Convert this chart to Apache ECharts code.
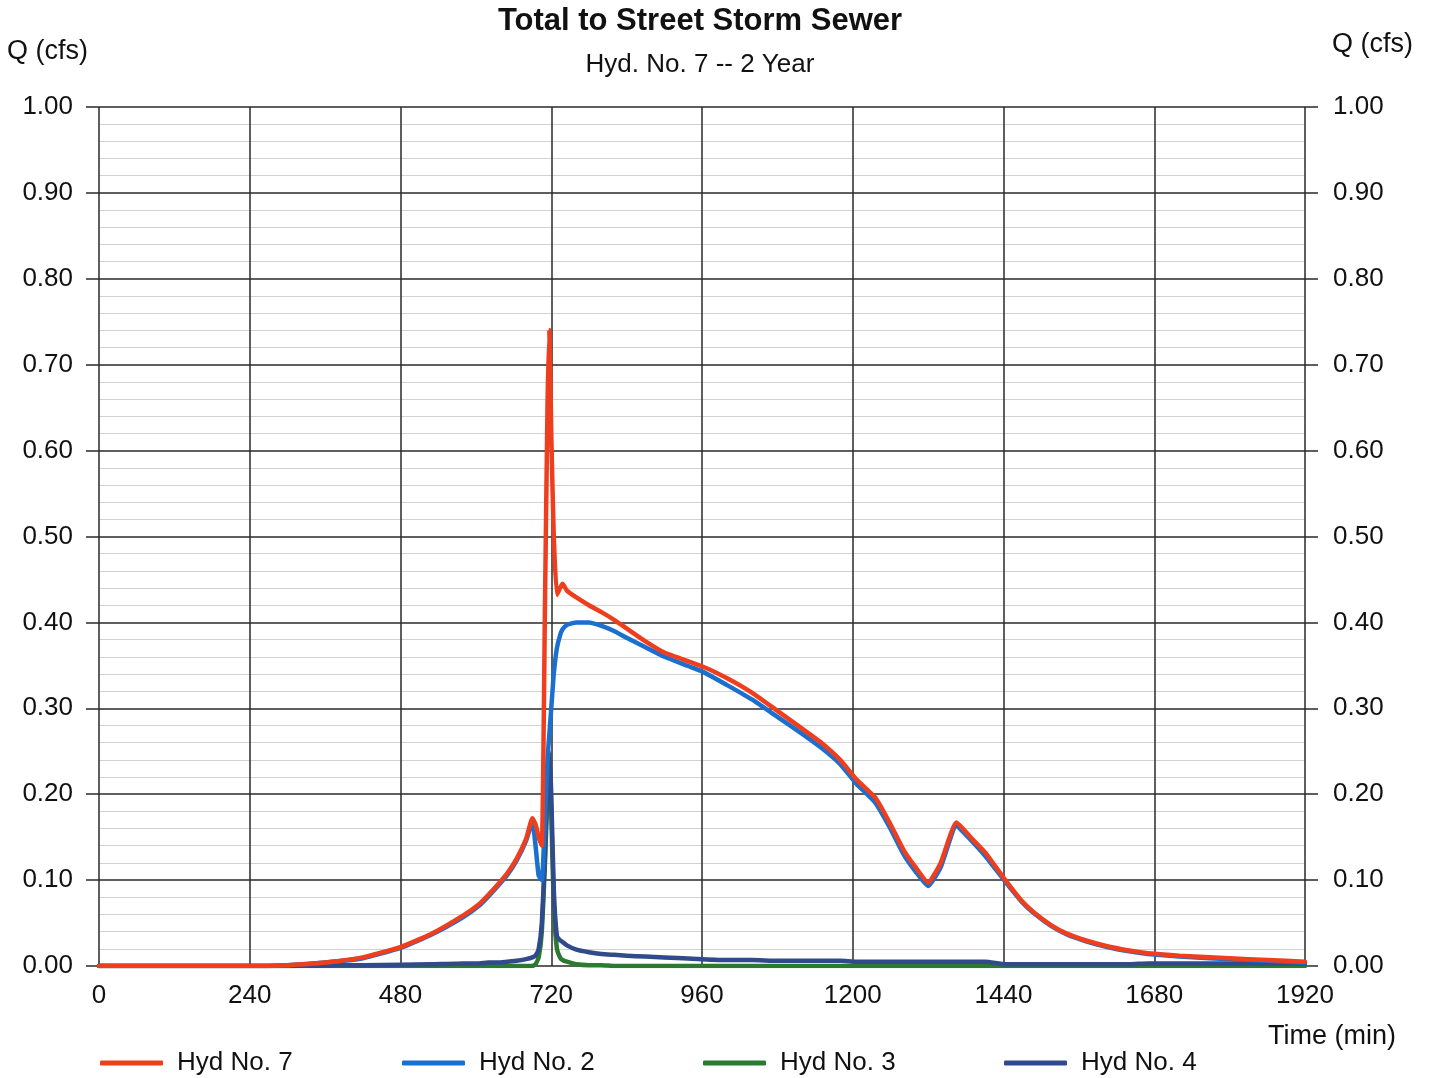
<!DOCTYPE html>
<html>
<head>
<meta charset="utf-8">
<script src="https://cdn.jsdelivr.net/npm/echarts@6/dist/echarts.min.js"></script>
<style>
html,body{margin:0;padding:0;background:#fff;}
#chart{width:1429px;height:1078px;}
</style>
</head>
<body>
<div id="chart"></div>
<script>
// ---- data ----
var titleText = 'Total to Street Storm Sewer';
var subtitleText = 'Hyd. No. 7 -- 2 Year';
var seriesNames = ['Hyd No. 7', 'Hyd No. 2', 'Hyd No. 3', 'Hyd No. 4'];
var xTicks = [0, 240, 480, 720, 960, 1200, 1440, 1680, 1920];
var yTicks = [0, 0.1, 0.2, 0.3, 0.4, 0.5, 0.6, 0.7, 0.8, 0.9, 1.0];

var times = [0, 120, 240, 300, 360, 420, 480, 528, 580, 605, 620, 635, 650, 665, 680, 690, 695, 700, 705, 710, 714, 717, 720, 724, 729, 734, 738, 745, 760, 780, 800, 820, 840, 870, 900, 960, 1000, 1040, 1080, 1120, 1150, 1180, 1206, 1236, 1260, 1281, 1300, 1320, 1340, 1365, 1390, 1411, 1443, 1470, 1489, 1515, 1540, 1570, 1605, 1640, 1670, 1720, 1800, 1860, 1920];

var hyd7 = [0, 0, 0, 0.001, 0.004, 0.010, 0.022, 0.037, 0.059, 0.072, 0.083, 0.095, 0.108, 0.125, 0.148, 0.172, 0.165, 0.150, 0.140, 0.420, 0.650, 0.740, 0.620, 0.500, 0.432, 0.440, 0.445, 0.437, 0.429, 0.420, 0.412, 0.403, 0.393, 0.378, 0.365, 0.349, 0.335, 0.318, 0.297, 0.276, 0.260, 0.240, 0.217, 0.196, 0.165, 0.135, 0.115, 0.097, 0.120, 0.167, 0.148, 0.132, 0.100, 0.075, 0.062, 0.048, 0.038, 0.030, 0.023, 0.018, 0.015, 0.012, 0.009, 0.007, 0.005];

var hyd2 = [0, 0, 0, 0.001, 0.004, 0.009, 0.021, 0.036, 0.057, 0.070, 0.081, 0.093, 0.106, 0.123, 0.146, 0.168, 0.140, 0.105, 0.100, 0.170, 0.240, 0.270, 0.300, 0.340, 0.370, 0.385, 0.392, 0.397, 0.400, 0.400, 0.396, 0.390, 0.382, 0.371, 0.360, 0.343, 0.327, 0.310, 0.290, 0.270, 0.254, 0.235, 0.212, 0.190, 0.160, 0.130, 0.110, 0.093, 0.115, 0.163, 0.145, 0.128, 0.098, 0.074, 0.061, 0.047, 0.037, 0.029, 0.022, 0.017, 0.014, 0.011, 0.008, 0.006, 0.004];

var hyd3 = [0, 0, 0, 0, 0, 0, 0, 0, 0, 0, 0, 0, 0, 0, 0, 0, 0.002, 0.010, 0.040, 0.120, 0.200, 0.230, 0.180, 0.070, 0.020, 0.010, 0.007, 0.005, 0.002, 0.001, 0.001, 0, 0, 0, 0, 0, 0, 0, 0, 0, 0, 0, 0, 0, 0, 0, 0, 0, 0, 0, 0, 0, 0, 0, 0, 0, 0, 0, 0, 0, 0, 0, 0, 0, 0];

var hyd4 = [0, 0, 0, 0, 0.0005, 0.001, 0.0015, 0.002, 0.003, 0.003, 0.004, 0.004, 0.005, 0.006, 0.008, 0.010, 0.012, 0.020, 0.050, 0.130, 0.220, 0.250, 0.200, 0.090, 0.035, 0.030, 0.028, 0.024, 0.019, 0.016, 0.014, 0.013, 0.012, 0.011, 0.010, 0.008, 0.007, 0.007, 0.006, 0.006, 0.006, 0.006, 0.005, 0.005, 0.005, 0.005, 0.005, 0.005, 0.005, 0.005, 0.005, 0.005, 0.002, 0.002, 0.002, 0.002, 0.002, 0.002, 0.002, 0.002, 0.003, 0.003, 0.003, 0.003, 0.003];

var colors = ['#EE3E1E', '#1B6FCF', '#2A7B2F', '#304A8C'];

// ---- chart ----
function pairs(vals) { return times.map(function (t, i) { return [t, vals[i]]; }); }
var FONT = 'Liberation Sans, Arial, sans-serif';
var chart = echarts.init(document.getElementById('chart'), null, {renderer: 'canvas'});

function legendAt(name, left) {
  return {
    data: [name], left: left, top: 1050, padding: 0, icon: 'roundRect', itemWidth: 63, itemHeight: 5,
    textStyle: {fontFamily: FONT, fontSize: 26, color: '#111', padding: [0, 0, 0, 9]}
  };
}

var seriesData = [hyd7, hyd2, hyd3, hyd4];
var zs = [4, 3, 1, 2];

var option = {
  animation: false,
  backgroundColor: '#fff',
  color: colors,
  legend: [legendAt(seriesNames[0], 100), legendAt(seriesNames[1], 402), legendAt(seriesNames[2], 703), legendAt(seriesNames[3], 1004)],
  graphic: [
    {type: 'text', x: 700, y: 21, style: {text: titleText, font: 'bold 31px ' + FONT, fill: '#111', textAlign: 'center', textVerticalAlign: 'middle'}},
    {type: 'text', x: 700, y: 65, style: {text: subtitleText, font: '26px ' + FONT, fill: '#111', textAlign: 'center', textVerticalAlign: 'middle'}},
    {type: 'text', x: 7, y: 52, style: {text: 'Q (cfs)', font: '27px ' + FONT, fill: '#111', textVerticalAlign: 'middle'}},
    {type: 'text', x: 1332, y: 45, style: {text: 'Q (cfs)', font: '27px ' + FONT, fill: '#111', textVerticalAlign: 'middle'}},
    {type: 'text', x: 1268, y: 1037, style: {text: 'Time (min)', font: '27px ' + FONT, fill: '#111', textVerticalAlign: 'middle'}}
  ],
  grid: {left: 99, right: 124, top: 107, height: 859, containLabel: false},
  xAxis: {
    type: 'value', min: xTicks[0], max: xTicks[xTicks.length - 1], interval: 240,
    axisLine: {show: false}, axisTick: {show: false},
    axisLabel: {fontFamily: FONT, fontSize: 26, color: '#111', margin: 17, formatter: function (v) { return String(v); }},
    splitLine: {show: true, lineStyle: {color: '#2a2a2a', width: 1.5}}
  },
  yAxis: [
    {
      type: 'value', min: yTicks[0], max: yTicks[yTicks.length - 1], interval: 0.1, position: 'left',
      axisLine: {show: false},
      axisTick: {show: true, length: 13, lineStyle: {color: '#2a2a2a', width: 1.5}},
      axisLabel: {fontFamily: FONT, fontSize: 26, color: '#111', margin: 26, formatter: function (v) { return v.toFixed(2); }},
      splitLine: {show: true, lineStyle: {color: '#2a2a2a', width: 1.5}},
      minorTick: {show: false, splitNumber: 5},
      minorSplitLine: {show: true, lineStyle: {color: '#d2d2d2', width: 1}}
    },
    {
      type: 'value', min: yTicks[0], max: yTicks[yTicks.length - 1], interval: 0.1, position: 'right',
      axisLine: {show: false},
      axisTick: {show: true, length: 13, lineStyle: {color: '#2a2a2a', width: 1.5}},
      axisLabel: {fontFamily: FONT, fontSize: 26, color: '#111', margin: 28, formatter: function (v) { return v.toFixed(2); }},
      splitLine: {show: false}
    }
  ],
  series: seriesNames.map(function (n, i) {
    return {
      name: n, type: 'line', data: pairs(seriesData[i]), showSymbol: false, symbol: 'none',
      z: zs[i], smooth: 0.15,
      lineStyle: {width: 4.5, color: colors[i], join: 'round', cap: 'round'},
      itemStyle: {color: colors[i]}
    };
  })
};
chart.setOption(option);
</script>
</body>
</html>
